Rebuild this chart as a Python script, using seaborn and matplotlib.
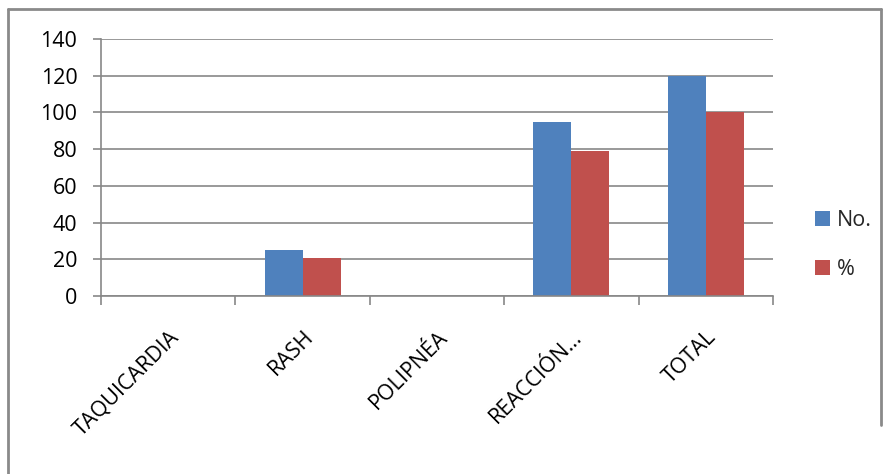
import matplotlib
matplotlib.use("Agg")
import matplotlib.pyplot as plt
import seaborn as sns
import pandas as pd
from matplotlib.lines import Line2D

categories = ["TAQUICARDIA", "RASH", "POLIPNÉA", "REACCIÓN…", "TOTAL"]
series_names = ["No.", "%"]
no_values = [0, 25, 0, 95, 120]
pct_values = [0, 20.8, 0, 79.2, 100]
y_ticks = [0, 20, 40, 60, 80, 100, 120, 140]

df = pd.DataFrame({
    "categoria": categories * 2,
    "serie": [series_names[0]] * len(categories) + [series_names[1]] * len(categories),
    "valor": no_values + pct_values,
})

sns.set_theme(style="white")
plt.rcParams["font.family"] = ["Open Sans", "DejaVu Sans"]

W, H = 888, 474
fig = plt.figure(figsize=(W / 100, H / 100), dpi=100)
ax = fig.add_axes([101 / W, 1 - 296 / H, (773 - 101) / W, (296 - 39) / H])

palette = {"No.": "#4F81BD", "%": "#C0504D"}
sns.barplot(data=df, x="categoria", y="valor", hue="serie", palette=palette,
            width=0.565, saturation=1, ax=ax, legend=True, linewidth=0)

grid_c = "#878787"
fs = 15.5
ax.set_ylim(0, 140)
ax.set_yticks(y_ticks)
ax.set_xlim(-0.5, len(categories) - 0.5)
ax.yaxis.grid(True, color=grid_c, linewidth=1.2)
ax.set_axisbelow(True)
ax.set_xlabel("")
ax.set_ylabel("")

for side in ["top", "right"]:
    ax.spines[side].set_visible(False)
for side in ["left", "bottom"]:
    ax.spines[side].set_color(grid_c)
    ax.spines[side].set_linewidth(1.2)

ax.tick_params(axis="y", which="major", left=True, length=6, width=1.2,
               color=grid_c, labelsize=fs, pad=11, labelcolor="black")
ax.set_xticks(range(len(categories)))
ax.set_xticklabels(categories, rotation=45, ha="right", rotation_mode="anchor",
                   fontsize=fs, color="black")
ax.tick_params(axis="x", which="major", length=0, pad=22)
ax.set_xticks([i - 0.5 for i in range(len(categories) + 1)], minor=True)
ax.tick_params(axis="x", which="minor", bottom=True, length=6.5, width=1.2,
               color=grid_c)

ax.legend(loc="center left", bbox_to_anchor=(815 / W, 1 - 245 / H),
          bbox_transform=fig.transFigure, frameon=False, fontsize=fs,
          handlelength=0.68, handleheight=0.68, labelspacing=1.3,
          handletextpad=0.35, borderpad=0, borderaxespad=0)

# chart area frame
frame_kw = dict(transform=fig.transFigure, color="#8a8a8a", linewidth=2)
x0, x1, y0 = 8 / W, 881 / W, 1 - 9 / H
fig.add_artist(Line2D([x0, x0], [y0, 0], **frame_kw))
fig.add_artist(Line2D([x0, x1], [y0, y0], **frame_kw))
fig.add_artist(Line2D([x1, x1], [y0, 1 - 425 / H], **frame_kw))

fig.savefig("out.png", dpi=100)
